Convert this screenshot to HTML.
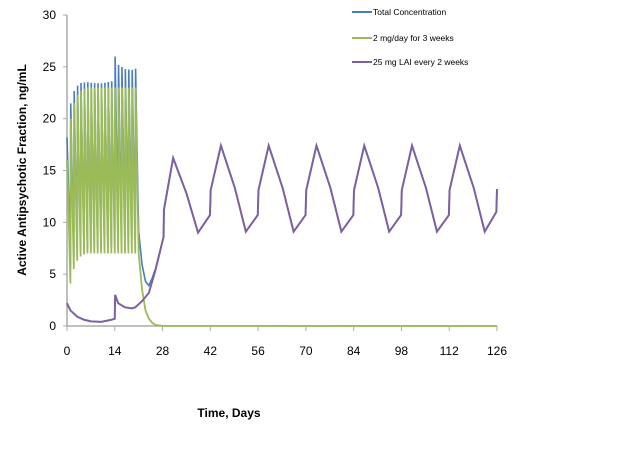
<!DOCTYPE html>
<html><head><meta charset="utf-8"><style>
body{margin:0;background:#fff;}
svg{display:block;font-family:"Liberation Sans",sans-serif;}
</style></head><body>
<svg id="c" width="621" height="452"></svg>
<script>
const xTicks=[0,14,28,42,56,70,84,98,112,126];
const yTicks=[0,5,10,15,20,25,30];
const greenPeaks=[16,20,21.5,22.3,22.7,22.9,23,23,23,23,23,23,23,23,23,23,23,23,23,23,23];
const greenTroughs=[4.1,5.5,6.3,6.7,6.9,7,7,7,7,7,7,7,7,7,7,7,7,7,7,7,7];
const greenTailDays=[22,23,24,25,26,28,126];
const greenTailVals=[3.5,1.5,0.7,0.3,0.1,0.02,0];
const purpleDays=[0,1,3,5,7,10,13,14,14.1,15,17,19,20,22,24,26,28.3,28.4,31.1,35,38.4,41.9,42.1,45.1,49.2,52.4,55.9,56.1,59.1,63.2,66.4,69.9,70.1,73.1,77.2,80.4,83.9,84.1,87.1,91.2,94.4,97.9,98.1,101.1,105.2,108.4,111.9,112.1,115.1,119.2,122.4,125.8,126];
const purpleVals=[2.2,1.5,0.9,0.6,0.45,0.4,0.6,0.7,3.0,2.2,1.8,1.7,1.8,2.4,3.2,5.5,8.6,11.2,16.2,12.8,9.0,10.7,13.1,17.4,13.3,9.1,10.7,13.1,17.4,13.3,9.1,10.7,13.1,17.4,13.3,9.1,10.7,13.1,17.4,13.3,9.1,10.7,13.1,17.4,13.3,9.1,10.7,13.1,17.4,13.3,9.1,11.0,13.2];

const NS="http://www.w3.org/2000/svg",svg=document.getElementById('c');
const X0=67,X1=497,Y0=326,Y1=15;
const xs=d=>X0+(d/126)*(X1-X0), ys=v=>Y0-(v/30)*(Y0-Y1);
function el(t,a,p){const e=document.createElementNS(NS,t);for(const k in a)e.setAttribute(k,a[k]);(p||svg).appendChild(e);return e;}
const decayT=[0.1,0.35,0.6,0.85];
const decayF=[1,0.7,0.42,0.15];
const gD=[0],gV=[greenPeaks[0]];
for(let i=0;i<greenPeaks.length;i++){
  const t=i,pk=greenPeaks[i],tr=greenTroughs[i];
  if(i>0){gD.push(t+0.1);gV.push(pk);}
  for(let k=1;k<decayT.length;k++){gD.push(t+decayT[k]);gV.push(tr+(pk-tr)*decayF[k]);}
  gD.push(t+1);gV.push(tr);
}
for(let i=0;i<greenTailDays.length;i++){gD.push(greenTailDays[i]);gV.push(greenTailVals[i]);}
function interp(D,V,t){if(t<=D[0])return V[0];for(let i=1;i<D.length;i++)if(t<=D[i]){const f=(t-D[i-1])/(D[i]-D[i-1]||1);return V[i-1]+f*(V[i]-V[i-1]);}return V[V.length-1];}
const tD=Array.from(new Set(gD.concat(purpleDays))).sort((a,b)=>a-b);
const tV=tD.map(t=>interp(gD,gV,t)+interp(purpleDays,purpleVals,t));
function pts(D,V){return D.map((d,i)=>xs(d).toFixed(2)+','+ys(V[i]).toFixed(2)).join(' ');}
const ax=el('g',{});


el('line',{x1:X0,y1:Y1,x2:X0,y2:Y0,stroke:'#aaa','stroke-width':1.5},ax);
el('line',{x1:X0,y1:Y0,x2:X1,y2:Y0,stroke:'#aaa','stroke-width':1.5},ax);
xTicks.forEach(v=>{el('line',{x1:xs(v),y1:Y0,x2:xs(v),y2:Y0+5,stroke:'#aaa'},ax);
 const t=el('text',{x:xs(v),y:355,'text-anchor':'middle','font-size':12,fill:'#000'},ax);t.textContent=v;
 
 });
yTicks.forEach(v=>{el('line',{x1:X0-4,y1:ys(v),x2:X0,y2:ys(v),stroke:'#aaa'},ax);
 const t=el('text',{x:56,y:ys(v)+4,'text-anchor':'end','font-size':12,fill:'#000'},ax);t.textContent=v;
 
 });
const b=el('polyline',{points:pts(tD,tV),fill:'none',stroke:'#4a7ebb','stroke-width':1.6});


const g=el('polyline',{points:pts(gD,gV),fill:'none',stroke:'#9bbb59','stroke-width':1.8});


const p=el('polyline',{points:pts(purpleDays,purpleVals),fill:'none',stroke:'#7d60a0','stroke-width':2});


const lg=[['Total Concentration','#4a7ebb',12],['2 mg/day for 3 weeks','#9bbb59',38],['25 mg LAI every 2 weeks','#7d60a0',62]];
lg.forEach(l=>{const gg=el('g',{});
 
 
 el('line',{x1:352,y1:l[2],x2:372,y2:l[2],stroke:l[1],'stroke-width':2},gg);
 const t=el('text',{x:373,y:l[2]+3,'font-size':8.5,fill:'#000'},gg);t.textContent=l[0];});
const yt=el('text',{x:0,y:0,'font-size':12,'font-weight':'bold','text-anchor':'middle',transform:'translate(26,170) rotate(-90)'});
yt.textContent='Active Antipsychotic Fraction, ng/mL';


const xt=el('text',{x:229,y:417,'font-size':12,'font-weight':'bold','text-anchor':'middle'});
xt.textContent='Time, Days';


</script>
</body></html>
